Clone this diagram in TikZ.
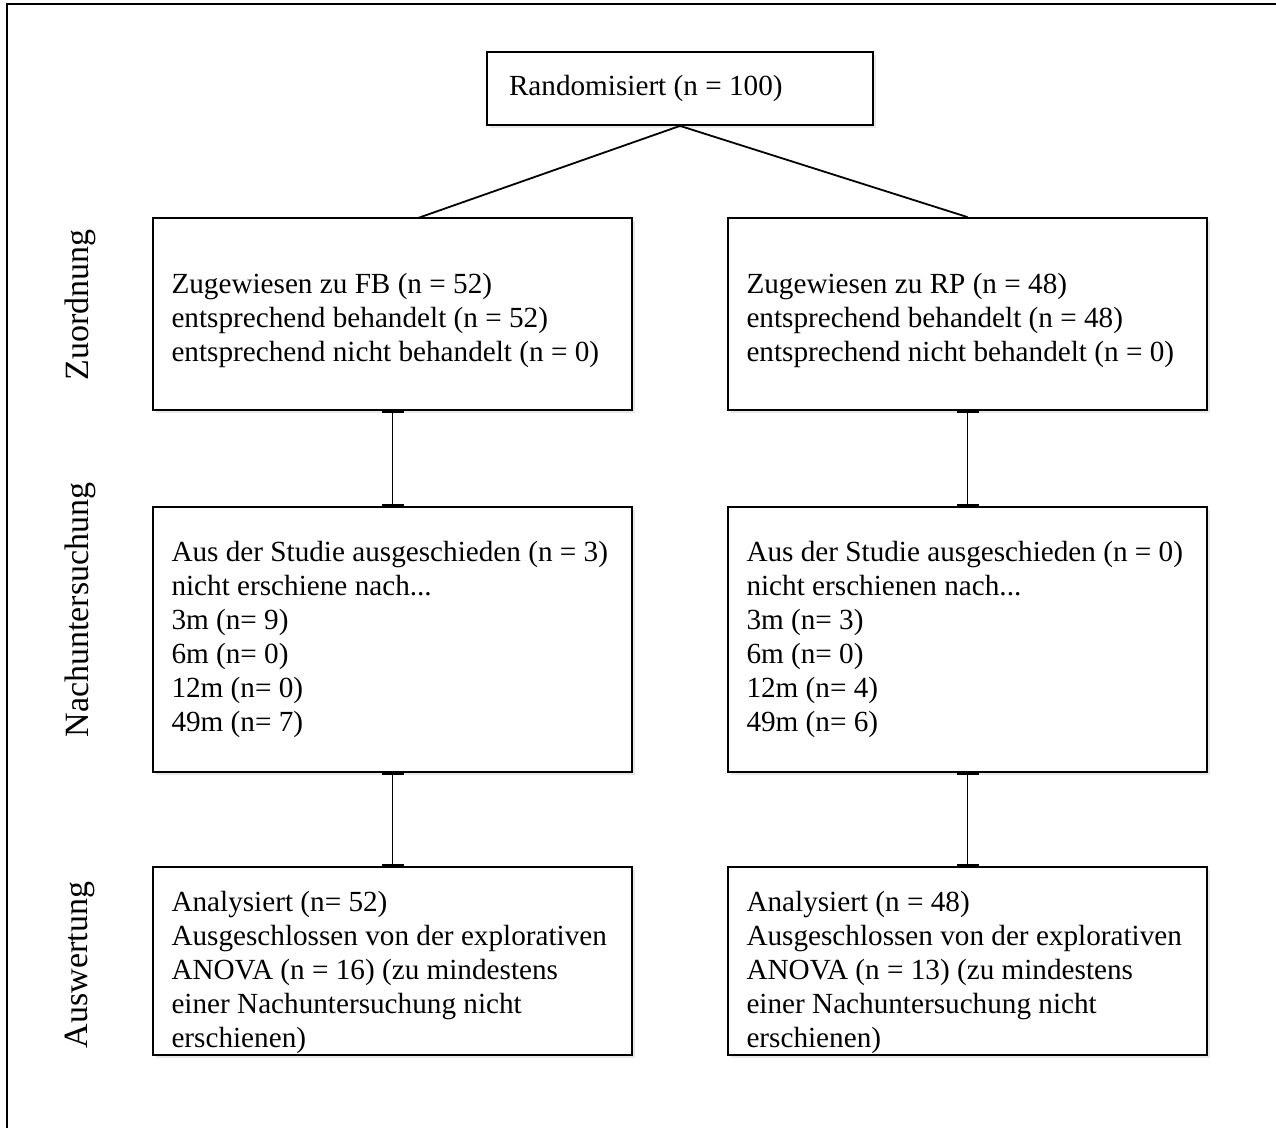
\documentclass[tikz,border=0pt]{standalone}
\usepackage{fontspec}
\setmainfont{Liberation Serif}
\usetikzlibrary{arrows.meta,shadows}

\tikzset{
  flowbox/.style={draw=black, line width=0.9pt, fill=white, rectangle,
    drop shadow={opacity=0.18, shadow xshift=1.5pt, shadow yshift=-1.5pt},
    font=\fontsize{14.6}{17}\selectfont, align=flush left, inner xsep=9.25pt},
  groupbox/.style={flowbox, minimum width=239.5pt, text width=221pt},
  phase/.style={rotate=90, font=\fontsize{17}{20}\selectfont},
  link/.style={line width=0.9pt},
  tlink/.style={link, shorten <=-1pt, shorten >=-1pt,
    {Bar[width=11pt,line width=2pt]}-{Bar[width=11pt,line width=2pt]}}
}

\begin{document}
\begin{tikzpicture}[x=0.5pt, y=-0.5pt]
    \useasboundingbox (0,0) rectangle (1276,1128);

    %% Outer frame
    \draw[line width=1pt] (7,1128) -- (7,4) -- (1276,4);

    %% Phase labels
    \node[phase] (zuordnung) at (80,305) {Zuordnung};
    \node[phase] (nachunt) at (80,610) {Nachuntersuchung};
    \node[phase] (auswertung) at (80,965) {Auswertung};

    %% Top box
    \node[flowbox, minimum width=193pt, minimum height=36.5pt, text width=171pt, inner xsep=11pt] (rand) at (680,88.5) {Randomisiert (n = 100)};

    %% Allocation
    \node[groupbox, minimum height=96pt] (fbzu) at (392.5,314) {\rule{0pt}{17pt}Zugewiesen zu FB (n = 52)\\entsprechend behandelt (n = 52)\\entsprechend nicht behandelt (n = 0)};
    \node[groupbox, minimum height=96pt] (rpzu) at (967.5,314) {\rule{0pt}{17pt}Zugewiesen zu RP (n = 48)\\entsprechend behandelt (n = 48)\\entsprechend nicht behandelt (n = 0)};

    %% Follow-up
    \node[groupbox, minimum height=132.5pt] (fbnach) at (392.5,639.5) {Aus der Studie ausgeschieden (n = 3)\\nicht erschiene nach...\\3m (n= 9)\\6m (n= 0)\\12m (n= 0)\\49m (n= 7)};
    \node[groupbox, minimum height=132.5pt] (rpnach) at (967.5,639.5) {Aus der Studie ausgeschieden (n = 0)\\nicht erschienen nach...\\3m (n= 3)\\6m (n= 0)\\12m (n= 4)\\49m (n= 6)};

    %% Analysis
    \node[groupbox, minimum height=94pt, inner ysep=0pt] (fbaus) at (392.5,961) {\rule{0pt}{22pt}Analysiert (n= 52)\\Ausgeschlossen von der explorativen\\ANOVA (n = 16) (zu mindestens\\einer Nachuntersuchung nicht\\erschienen)};
    \node[groupbox, minimum height=94pt, inner ysep=0pt] (rpaus) at (967.5,961) {\rule{0pt}{22pt}Analysiert (n = 48)\\Ausgeschlossen von der explorativen\\ANOVA (n = 13) (zu mindestens\\einer Nachuntersuchung nicht\\erschienen)};

    %% Connectors
    \coordinate (fbtop) at (418,218);
    \draw[link] (rand.south) -- (fbtop);
    \draw[link] (rand.south) -- (rpzu.north);
    \draw[tlink] (fbzu.south) -- (fbnach.north);
    \draw[tlink] (rpzu.south) -- (rpnach.north);
    \draw[tlink] (fbnach.south) -- (fbaus.north);
    \draw[tlink] (rpnach.south) -- (rpaus.north);
\end{tikzpicture}
\end{document}
